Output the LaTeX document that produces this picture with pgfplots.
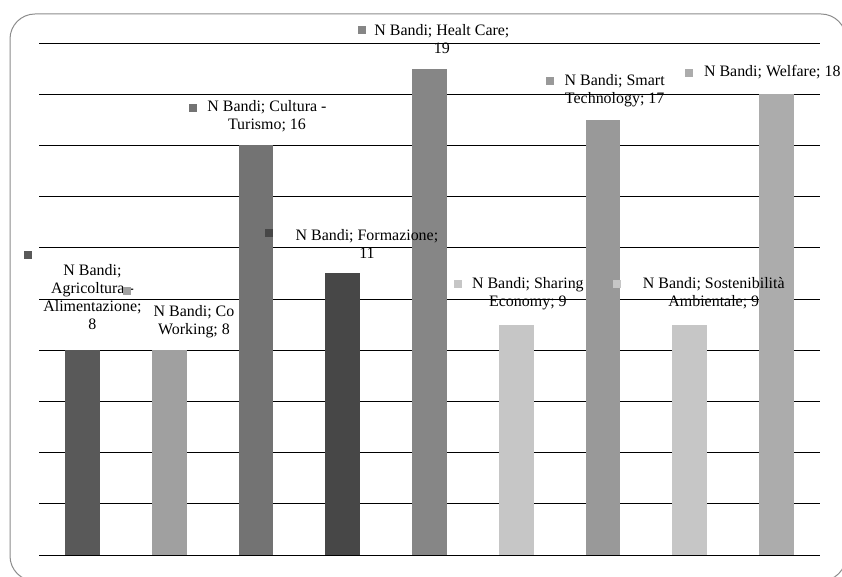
\documentclass[border=0pt]{standalone}
\usepackage{fontspec}
\setmainfont{Liberation Serif}
\usepackage{pgfplots}
\pgfplotsset{compat=1.18}
\definecolor{c1}{HTML}{595959}
\definecolor{c2}{HTML}{A0A0A0}
\definecolor{c3}{HTML}{737373}
\definecolor{c4}{HTML}{474747}
\definecolor{c5}{HTML}{868686}
\definecolor{c6}{HTML}{C6C6C6}
\definecolor{c7}{HTML}{999999}
\definecolor{c8}{HTML}{C6C6C6}
\definecolor{c9}{HTML}{ACACAC}
\definecolor{frame}{HTML}{8C8C8C}
\tikzset{
  lbl/.style={font=\fontsize{16}{18}\selectfont, align=center, inner sep=0pt, text=black},
  key/.style={minimum size=8bp, inner sep=0pt, draw=none},
}
\begin{document}
\begin{tikzpicture}[x=1bp,y=1bp]
\path[use as bounding box] (0,0) rectangle (842,577);
\draw[frame, line width=1bp, rounded corners=25bp] (10,-4) rectangle (846,563);
\begin{axis}[
  at={(39bp,22bp)}, anchor=south west,
  scale only axis, width=781bp, height=512bp,
  xmin=-0.5, xmax=8.5, ymin=0, ymax=20,
  axis line style={draw=none},
  tick style={draw=none},
  xtick=\empty,
  ytick={0,2,...,20}, yticklabels={},
  ymajorgrids, grid style={black, line width=0.8bp},
  clip=false,
]
\addplot[ybar, bar width=0.4, bar shift=0pt, fill=c1, draw=none] coordinates {(0,8)};
\addplot[ybar, bar width=0.4, bar shift=0pt, fill=c2, draw=none] coordinates {(1,8)};
\addplot[ybar, bar width=0.4, bar shift=0pt, fill=c3, draw=none] coordinates {(2,16)};
\addplot[ybar, bar width=0.4, bar shift=0pt, fill=c4, draw=none] coordinates {(3,11)};
\addplot[ybar, bar width=0.4, bar shift=0pt, fill=c5, draw=none] coordinates {(4,19)};
\addplot[ybar, bar width=0.4, bar shift=0pt, fill=c6, draw=none] coordinates {(5,9)};
\addplot[ybar, bar width=0.4, bar shift=0pt, fill=c7, draw=none] coordinates {(6,17)};
\addplot[ybar, bar width=0.4, bar shift=0pt, fill=c8, draw=none] coordinates {(7,9)};
\addplot[ybar, bar width=0.4, bar shift=0pt, fill=c9, draw=none] coordinates {(8,18)};
% data labels
\node[lbl] at (axis cs:0.116,10.08) {N Bandi;\\Agricoltura -\\Alimentazione;\\8};
\node[key, fill=c1] at (axis cs:-0.627,11.72) {};
\node[lbl] at (axis cs:1.286,9.12) {N Bandi; Co\\Working; 8};
\node[key, fill=c2] at (axis cs:0.514,10.31) {};
\node[lbl] at (axis cs:2.127,17.15) {N Bandi; Cultura -\\Turismo; 16};
\node[key, fill=c3] at (axis cs:1.274,17.46) {};
\node[lbl] at (axis cs:3.279,12.15) {N Bandi; Formazione;\\11};
\node[key, fill=c4] at (axis cs:2.150,12.58) {};
\node[lbl] at (axis cs:4.143,20.16) {N Bandi; Healt Care;\\19};
\node[key, fill=c5] at (axis cs:3.22,20.51) {};
\node[lbl] at (axis cs:5.134,10.21) {N Bandi; Sharing\\Economy; 9};
\node[key, fill=c6] at (axis cs:4.327,10.59) {};
\node[lbl] at (axis cs:6.134,18.125) {N Bandi; Smart\\Technology; 17};
\node[key, fill=c7] at (axis cs:5.387,18.52) {};
\node[lbl] at (axis cs:7.276,10.21) {N Bandi; Sostenibilità\\Ambientale; 9};
\node[key, fill=c8] at (axis cs:6.159,10.59) {};
\node[lbl] at (axis cs:7.95,18.87) {N Bandi; Welfare; 18};
\node[key, fill=c9] at (axis cs:6.988,18.83) {};
\end{axis}
\end{tikzpicture}
\end{document}
